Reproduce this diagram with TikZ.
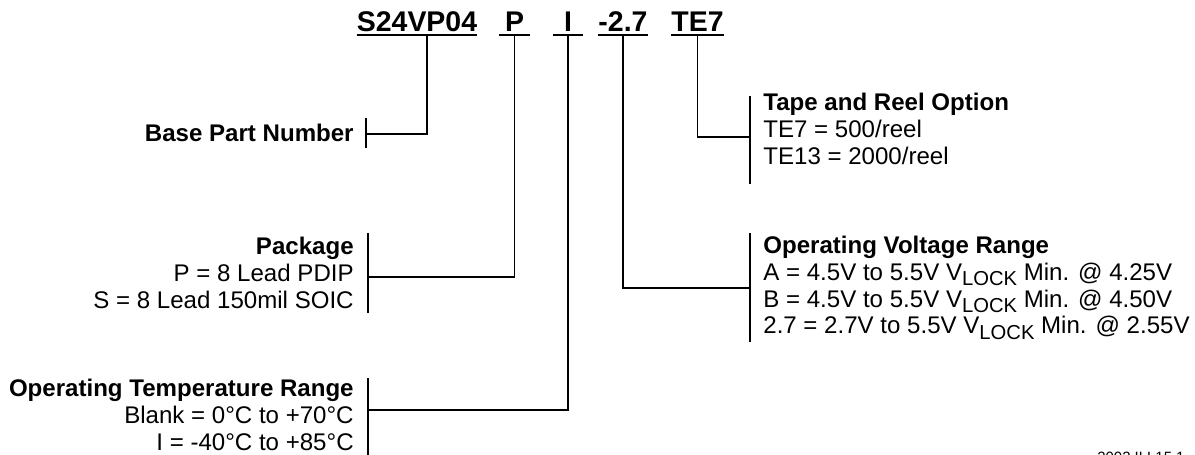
\documentclass[tikz,border=0pt]{standalone}
\usepackage{fontspec}
\setmainfont{Liberation Sans}
\usetikzlibrary{calc}
\tikzset{
  partcode/.style={font=\bfseries\fontsize{16.2}{18}\selectfont,
    inner sep=0pt, minimum width=0.6cm, anchor=base},
  desc/.style={font=\fontsize{13.7}{15.2}\selectfont, inner sep=0pt},
  leftdesc/.style={desc, align=right, anchor=north east},
  rightdesc/.style={desc, align=left, anchor=north west},
  lead/.style={line width=1.1pt},
  uline/.style={line width=1.1pt}
}
\newcommand{\vlock}{V\raisebox{-0.22em}{\fontsize{11.5}{12}\selectfont LOCK}}

\begin{document}
\begin{tikzpicture}[x=0.02cm, y=-0.02cm]
  \useasboundingbox (0,0) rectangle (1195,455);

  % ordering code
  \node[partcode] (base) at (417,32) {S24VP04};
  \node[partcode] (pack) at (514.5,32) {P};
  \node[partcode] (temp) at (568,32) {I};
  \node[partcode] (volt) at (623,32) {-2.7};
  \node[partcode] (reel) at (697.5,32) {TE7};
  \foreach \n in {base,pack,temp,volt,reel}
    \draw[uline] ($(\n.base west)+(0,3)$) -- ($(\n.base east)+(0,3)$);

  % descriptions
  \node[desc, font=\bfseries\fontsize{13.7}{15.2}\selectfont, anchor=base east] (basetxt) at (354,142) {Base Part Number};
  \node[leftdesc] (packtxt) at (354,237) {\textbf{Package}\\P = 8 Lead PDIP\\S = 8 Lead 150mil SOIC};
  \node[leftdesc] (temptxt) at (354,379) {\textbf{Operating Temperature Range}\\Blank = 0°C to +70°C\\I = -40°C to +85°C};
  \node[rightdesc] (reeltxt) at (763,93) {\textbf{Tape and Reel Option}\\TE7 = 500/reel\\TE13 = 2000/reel};
  \node[rightdesc] (volttxt) at (763,236) {\textbf{Operating Voltage Range}\\A = 4.5V to 5.5V \vlock{} Min. @ 4.25V\\B = 4.5V to 5.5V \vlock{} Min. @ 4.50V\\2.7 = 2.7V to 5.5V \vlock{} Min. @ 2.55V};
  \node[font=\fontsize{8.5}{10}\selectfont, inner sep=0pt, anchor=north west] (fig) at (1097,452) {2002 ILL15.1};

  % bars
  \draw[lead] (366,118) -- (366,148);
  \draw[lead] (368,233) -- (368,313);
  \draw[lead] (368,378) -- (368,460);
  \draw[lead] (750,96) -- (750,184);
  \draw[lead] (750,233) -- (750,342);
  \coordinate (basejoin) at (366,134);
  \coordinate (packjoin) at (368,277);
  \coordinate (tempjoin) at (368,410);
  \coordinate (voltjoin) at (750,288);
  \coordinate (reeljoin) at (750,137);

  % leads
  \draw[lead] ($(base.base)+(10,3)$) |- (basejoin);
  \draw[lead] ($(pack.base)+(0,3)$) |- (packjoin);
  \draw[lead] ($(temp.base)+(0,3)$) |- (tempjoin);
  \draw[lead] ($(volt.base)+(0,3)$) |- (voltjoin);
  \draw[lead] ($(reel.base)+(0,3)$) |- (reeljoin);
\end{tikzpicture}
\end{document}
